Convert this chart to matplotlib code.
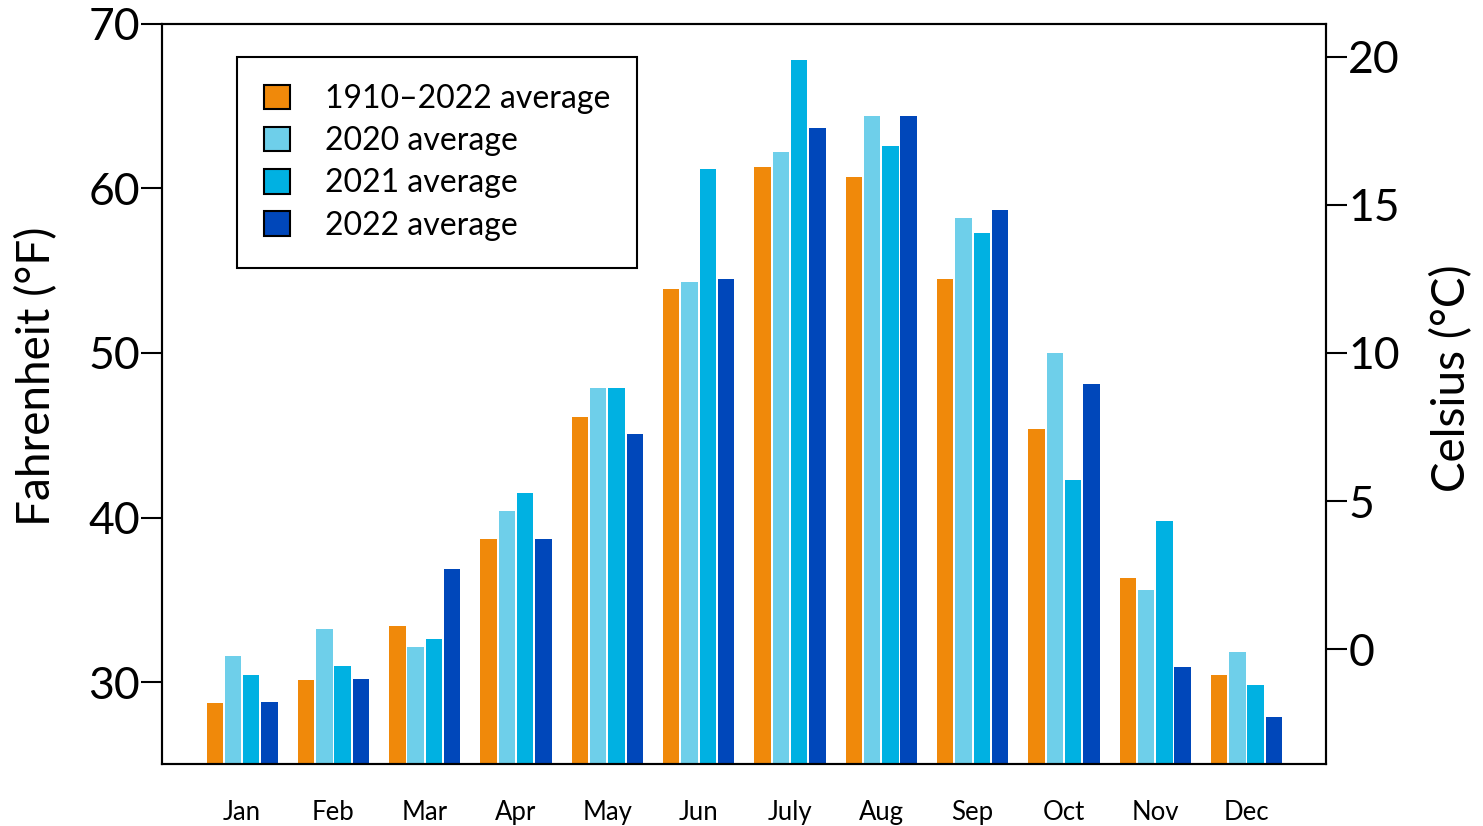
import matplotlib
matplotlib.use('Agg')
import matplotlib.pyplot as plt
import numpy as np

plt.rcParams['font.family'] = ['Lato', 'DejaVu Sans']

months = ['Jan', 'Feb', 'Mar', 'Apr', 'May', 'Jun', 'July', 'Aug', 'Sep', 'Oct', 'Nov', 'Dec']
labels = ['1910\u20132022 average', '2020 average', '2021 average', '2022 average']

# monthly averages in Fahrenheit
avg_1910_2022 = [28.7, 30.1, 33.4, 38.7, 46.1, 53.9, 61.3, 60.7, 54.5, 45.4, 36.3, 30.4]
avg_2020 = [31.6, 33.2, 32.1, 40.4, 47.9, 54.3, 62.2, 64.4, 58.2, 50.0, 35.6, 31.8]
avg_2021 = [30.4, 31.0, 32.6, 41.5, 47.9, 61.2, 67.8, 62.6, 57.3, 42.3, 39.8, 29.8]
avg_2022 = [28.8, 30.2, 36.9, 38.7, 45.1, 54.5, 63.7, 64.4, 58.7, 48.1, 30.9, 27.9]

series = [avg_1910_2022, avg_2020, avg_2021, avg_2022]
colors = ['#F0890A', '#6ECFEA', '#00B1E2', '#0047BA']

fig = plt.figure(figsize=(14.83, 8.26), dpi=100)
ax = fig.add_axes([0.1094, 0.0747, 0.7847, 0.8963])

x = np.arange(len(months))
offsets = [-0.3, -0.1, 0.1, 0.3]
for vals, off, c, lab in zip(series, offsets, colors, labels):
    ax.bar(x + off, np.array(vals) - 25, width=0.18, bottom=25, color=c, label=lab, zorder=2)

ax.set_xlim(-0.875, 11.87)
ax.set_ylim(25, 70)
ax.set_yticks([30, 40, 50, 60, 70])
ax.set_xticks(x)
ax.set_xticklabels(months)

for s in ax.spines.values():
    s.set_linewidth(1.5)
ax.tick_params(axis='y', length=15, width=1.5, pad=1, labelsize=32)
ax.tick_params(axis='x', length=0, pad=26, labelsize=18.5)

ax.set_ylabel('Fahrenheit (\u00b0F)', fontsize=33, va='center')
ax.yaxis.set_label_coords(-0.1077, 0.5245)

ax2 = ax.twinx()
ax2.set_ylim((25 - 32) * 5 / 9, (70 - 32) * 5 / 9)
ax2.set_yticks([0, 5, 10, 15, 20])
ax2.tick_params(axis='y', length=15, width=1.5, pad=1, labelsize=32)
for s in ax2.spines.values():
    s.set_linewidth(1.5)
ax2.set_ylabel('Celsius (\u00b0C)', fontsize=33, va='center')
ax2.yaxis.set_label_coords(1.108, 0.521)

leg = ax.legend(loc='upper left', bbox_to_anchor=(0.0642, 0.9554), borderaxespad=0,
                fontsize=23, frameon=True, fancybox=False, framealpha=1,
                edgecolor='black', handlelength=0.8, handleheight=0.8,
                handletextpad=1.1, labelspacing=0.38, borderpad=0.85)
leg.get_frame().set_linewidth(1.5)
for h in leg.legend_handles:
    h.set_edgecolor('black')
    h.set_linewidth(1.5)

fig.savefig('out.png', dpi=100)
